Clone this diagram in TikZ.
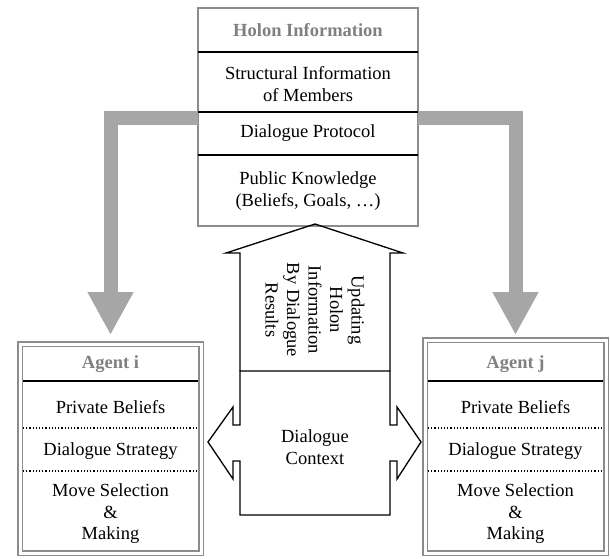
\documentclass[tikz,border=0pt]{standalone}
\usepackage{fontspec}
\setmainfont{Liberation Serif}
\usepackage{tikz}
\usetikzlibrary{arrows.meta}
\definecolor{boxgray}{RGB}{140,140,140}
\definecolor{flowgray}{RGB}{166,166,166}
\definecolor{titlegray}{RGB}{128,128,128}

\begin{document}
\begin{tikzpicture}
[
x=1pt, y=-1pt,
every node/.style={font=\fontsize{18.5}{21.5}\selectfont, align=center, inner sep=0pt},
holonbox/.style={rectangle, draw=boxgray, line width=2pt, outer sep=0pt, minimum width=220pt, minimum height=218pt},
agentbox/.style={rectangle, draw=boxgray, double=white, double distance=3pt, line width=1.5pt, outer sep=0pt, minimum width=181pt},
title/.style={text=titlegray, font=\fontsize{18.5}{21.5}\selectfont\bfseries},
rowline/.style={black, line width=1.2pt, shorten <=3pt, shorten >=3pt},
dotline/.style={black, dotted, line width=1.2pt, shorten <=3pt, shorten >=3pt},
flow/.style={flowgray, line width=14pt, -{Triangle[width=43pt,length=43pt]}},
dialogue/.style={black, line width=1.3pt, line join=miter}
]
\useasboundingbox (0,0) rectangle (610,559);

%Nodes
\node[holonbox]     (holon)       at (308,117)    {};
\node[title]        (holonTitle)  at (308,30)     {Holon Information};
\node               (members)     at (308,84)     {Structural Information\\of Members};
\node               (protocol)    at (308,133.5)  {Dialogue Protocol};
\node               (public)      at (308,191)    {Public Knowledge\\(Beliefs, Goals, …)};

\node[agentbox, minimum height=209pt] (agenti) at (110.5,448.5) {};
\node[title]        (agentiName)  at (110.5,364)  {Agent i};
\node               (beliefsi)    at (110.5,407)  {Private Beliefs};
\node               (strategyi)   at (110.5,451)  {Dialogue Strategy};
\node               (movei)       at (110.5,514)  {Move Selection\\\&\\Making};

\node[agentbox, minimum height=213pt] (agentj) at (515.5,446.5) {};
\node[title]        (agentjName)  at (515.5,364)  {Agent j};
\node               (beliefsj)    at (515.5,407)  {Private Beliefs};
\node               (strategyj)   at (515.5,451)  {Dialogue Strategy};
\node               (movej)       at (515.5,514)  {Move Selection\\\&\\Making};

%Lines
\foreach \y in {52,112,155}
  \draw[black, line width=1.2pt] (holon.west |- 0,\y) -- (holon.east |- 0,\y);
\foreach \a in {agenti,agentj} {
  \draw[rowline] (\a.west |- 0,381) -- (\a.east |- 0,381);
  \draw[dotline] (\a.west |- 0,428) -- (\a.east |- 0,428);
  \draw[dotline] (\a.west |- 0,471) -- (\a.east |- 0,471);
}
\draw[flow, shorten >=9pt] (holon.west |- 0,118) -| (agenti.north);
\draw[flow, shorten >=5pt] (holon.east |- 0,118) -| (agentj.north);

%Dialogue shape
\draw[dialogue] (240,371) -- (240,253) -- (226,253) -- (315,224) -- (403,253) -- (390,253) -- (390,371);
\draw[dialogue] (240,371) -- (390,371) -- (390,425) -- (397,425) -- (397,407) -- (421,442)
  -- (397,479) -- (397,461) -- (390,461) -- (390,515) -- (240,515) -- (240,461)
  -- (233,461) -- (233,479) -- (208,442) -- (233,407) -- (233,425) -- (240,425) -- cycle;
\node[rotate=-90]   (update)      at (315,310)    {Updating\\Holon\\Information\\By Dialogue\\Results};
\node               (context)     at (315,447)    {Dialogue\\Context};
\end{tikzpicture}
\end{document}
